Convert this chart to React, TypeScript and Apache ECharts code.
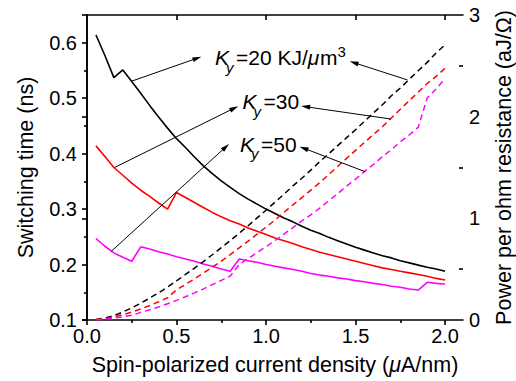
import React, { useEffect, useRef } from "react";
import * as echarts from "echarts";

const FONT = '"Liberation Sans", Arial, Helvetica, sans-serif';

// Spin-polarized current density (uA/nm)
const currentDensity = [
  0.05, 0.1, 0.15, 0.2, 0.25, 0.3, 0.35, 0.4, 0.45, 0.5,
  0.55, 0.6, 0.65, 0.7, 0.75, 0.8, 0.85, 0.9, 0.95, 1.0,
  1.05, 1.1, 1.15, 1.2, 1.25, 1.3, 1.35, 1.4, 1.45, 1.5,
  1.55, 1.6, 1.65, 1.7, 1.75, 1.8, 1.85, 1.9, 1.95, 2.0,
];

// Switching time (ns)
const timeK20 = [
  0.614, 0.577, 0.537, 0.551, 0.530, 0.509, 0.487, 0.466, 0.446, 0.427,
  0.411, 0.394, 0.378, 0.364, 0.351, 0.339, 0.328, 0.318, 0.309, 0.300,
  0.292, 0.284, 0.277, 0.269, 0.262, 0.256, 0.249, 0.243, 0.237, 0.231,
  0.226, 0.221, 0.216, 0.212, 0.207, 0.203, 0.199, 0.195, 0.192, 0.188,
];
const timeK30 = [
  0.414, 0.395, 0.375, 0.361, 0.347, 0.334, 0.323, 0.311, 0.300, 0.330,
  0.321, 0.312, 0.303, 0.294, 0.286, 0.279, 0.273, 0.266, 0.260, 0.254,
  0.248, 0.243, 0.238, 0.232, 0.227, 0.222, 0.218, 0.214, 0.210, 0.206,
  0.202, 0.198, 0.194, 0.191, 0.188, 0.185, 0.182, 0.179, 0.175, 0.172,
];
const timeK50 = [
  0.247, 0.233, 0.221, 0.213, 0.206, 0.232, 0.228, 0.223, 0.219, 0.214,
  0.210, 0.206, 0.201, 0.197, 0.192, 0.188, 0.210, 0.207, 0.204, 0.200,
  0.197, 0.194, 0.191, 0.188, 0.184, 0.181, 0.179, 0.176, 0.174, 0.171,
  0.169, 0.166, 0.164, 0.161, 0.159, 0.156, 0.154, 0.168, 0.166, 0.165,
];

// Power per ohm resistance (aJ/Ohm)
const powerK20 = [
  0.006, 0.021, 0.043, 0.079, 0.119, 0.165, 0.215, 0.268, 0.325, 0.384,
  0.448, 0.511, 0.575, 0.642, 0.711, 0.781, 0.853, 0.927, 1.004, 1.080,
  1.159, 1.237, 1.319, 1.394, 1.474, 1.558, 1.634, 1.715, 1.794, 1.871,
  1.955, 2.037, 2.117, 2.206, 2.282, 2.368, 2.452, 2.534, 2.628, 2.707,
];
const powerK30 = [
  0.004, 0.014, 0.030, 0.052, 0.078, 0.108, 0.142, 0.179, 0.219, 0.297,
  0.350, 0.404, 0.461, 0.519, 0.579, 0.643, 0.710, 0.776, 0.845, 0.914,
  0.984, 1.059, 1.133, 1.203, 1.277, 1.351, 1.430, 1.510, 1.590, 1.669,
  1.747, 1.825, 1.901, 1.987, 2.073, 2.158, 2.242, 2.326, 2.396, 2.477,
];
const powerK50 = [
  0.002, 0.008, 0.018, 0.031, 0.046, 0.075, 0.101, 0.128, 0.160, 0.193,
  0.229, 0.267, 0.306, 0.348, 0.389, 0.433, 0.546, 0.604, 0.663, 0.720,
  0.782, 0.845, 0.909, 0.975, 1.035, 1.101, 1.174, 1.242, 1.317, 1.385,
  1.462, 1.530, 1.607, 1.675, 1.753, 1.820, 1.897, 2.183, 2.272, 2.376,
];

// Axis ticks
const xTicks = [0, 0.5, 1.0, 1.5, 2.0];
const xMinorTicks = [0.25, 0.75, 1.25, 1.75];
const xTopTicks = [0.5, 1.0, 1.5, 2.0];
const leftTicks = [0.1, 0.2, 0.3, 0.4, 0.5, 0.6];
const leftMinorTicks = [0.15, 0.25, 0.35, 0.45, 0.55];
const rightTicks = [0, 1, 2, 3];
const rightMinorTicks = [0.5, 1.5, 2.5];

// Annotation arrows (data coords): [from, to]
const arrowsTime = [
  [[0.252, 0.531], [0.615, 0.572]],
  [[0.154, 0.375], [0.822, 0.482]],
  [[0.136, 0.224], [0.775, 0.412]],
];
const arrowsPower = [
  [[1.79, 2.361], [1.491, 2.531]],
  [[1.696, 1.977], [1.221, 2.098]],
  [[1.553, 1.459], [1.211, 1.689]],
];

const kValues = ["=20 KJ/", "=30", "=50"];

function pairs(xs: number[], ys: number[]) {
  return xs.map((x, i) => [x, ys[i]]);
}

function txt(x: number, baseline: number, text: string, size: number, italic = false) {
  return {
    type: "text",
    x,
    y: baseline - 0.35 * size,
    silent: true,
    style: {
      text,
      fontSize: size,
      fontFamily: FONT,
      fontStyle: italic ? "italic" : "normal",
      fill: "#000",
      align: "left",
      verticalAlign: "middle",
    },
  };
}

function kLabel(kx: number, base: number, rest: string, unit: boolean) {
  const big = 21;
  const els: any[] = [
    txt(kx, base, "K", big, true),
    txt(kx + 11, base + 7.5, "y", 15, true),
    txt(kx + 21, base, rest, big),
  ];
  if (unit) {
    const muX = kx + 21 + 3.419 * big;
    els.push(txt(muX, base, "\u03bc", big, true));
    const mX = muX + 0.576 * big;
    els.push(txt(mX, base, "m", big));
    els.push(txt(mX + 0.833 * big, base - 8.3, "3", 15));
  }
  return els;
}

const axisLineStyle = { color: "#000", width: 1.6 };

function arrowLines(list: number[][][]) {
  return {
    silent: true,
    symbol: ["none", "triangle"],
    symbolSize: [5, 9],
    label: { show: false },
    emphasis: { disabled: true },
    lineStyle: { color: "#000", width: 1, type: "solid" },
    data: list.map(([a, b]) => [{ coord: a }, { coord: b }]),
  };
}

export default function App() {
  const ref = useRef<HTMLDivElement>(null);
  useEffect(() => {
    document.body.style.margin = "0";
    const chart = echarts.init(ref.current!, null, { renderer: "svg" });
    const xBase = { type: "value", min: 0, max: 2.1, splitLine: { show: false } };
    const yLeft = { type: "value", min: 0.1, max: 0.65, splitLine: { show: false } };
    const yRight = { type: "value", min: 0, max: 3, splitLine: { show: false } };
    const option: any = {
      animation: false,
      backgroundColor: "#fff",
      grid: { left: 87, right: 53, top: 15, bottom: 61, outerBoundsMode: "none", containLabel: false },
      xAxis: [
        {
          ...xBase,
          position: "bottom",
          name: "Spin-polarized current density ({i|\u03bc}A/nm)",
          nameLocation: "middle",
          nameGap: 34,
          nameTextStyle: {
            fontSize: 21.5,
            fontFamily: FONT,
            color: "#000",
            rich: { i: { fontSize: 21.5, fontFamily: FONT, fontStyle: "italic", color: "#000" } },
          },
          axisLine: { show: true, lineStyle: axisLineStyle },
          axisTick: { show: true, inside: false, length: 5, customValues: xTicks, lineStyle: axisLineStyle },
          axisLabel: {
            show: true,
            customValues: xTicks,
            margin: 6,
            fontSize: 20,
            fontFamily: FONT,
            color: "#000",
            formatter: (v: number) => v.toFixed(1),
          },
        },
        {
          ...xBase,
          position: "bottom",
          axisLine: { show: false },
          axisTick: { show: true, inside: false, length: 3, customValues: xMinorTicks, lineStyle: axisLineStyle },
          axisLabel: { show: false },
        },
        {
          ...xBase,
          position: "top",
          axisLine: { show: true, lineStyle: axisLineStyle },
          axisTick: { show: true, inside: true, length: 5, customValues: xTopTicks, lineStyle: axisLineStyle },
          axisLabel: { show: false },
        },
      ],
      yAxis: [
        {
          ...yLeft,
          position: "left",
          name: "Switching time (ns)",
          nameLocation: "middle",
          nameRotate: 90,
          nameGap: 50,
          nameTextStyle: { fontSize: 21.5, fontFamily: FONT, color: "#000" },
          axisLine: { show: true, lineStyle: axisLineStyle },
          axisTick: { show: true, inside: false, length: 5, customValues: leftTicks, lineStyle: axisLineStyle },
          axisLabel: {
            show: true,
            customValues: leftTicks,
            margin: 10,
            fontSize: 20,
            fontFamily: FONT,
            color: "#000",
            formatter: (v: number) => v.toFixed(1),
          },
        },
        {
          ...yLeft,
          position: "left",
          axisLine: { show: false },
          axisTick: { show: true, inside: false, length: 3, customValues: leftMinorTicks, lineStyle: axisLineStyle },
          axisLabel: { show: false },
        },
        {
          ...yRight,
          position: "right",
          name: "Power per ohm resistance (aJ/\u03a9)",
          nameLocation: "middle",
          nameRotate: 90,
          nameGap: 30,
          nameTextStyle: { fontSize: 21.5, fontFamily: FONT, color: "#000" },
          axisLine: { show: true, lineStyle: axisLineStyle },
          axisTick: { show: true, inside: true, length: 5, customValues: rightTicks, lineStyle: axisLineStyle },
          axisLabel: {
            show: true,
            customValues: rightTicks,
            margin: 6,
            fontSize: 20,
            fontFamily: FONT,
            color: "#000",
            formatter: (v: number) => String(v),
          },
        },
        {
          ...yRight,
          position: "right",
          axisLine: { show: false },
          axisTick: { show: true, inside: true, length: 4, customValues: rightMinorTicks, lineStyle: axisLineStyle },
          axisLabel: { show: false },
        },
      ],
      series: [
        {
          type: "line", xAxisIndex: 0, yAxisIndex: 0, data: pairs(currentDensity, timeK20),
          showSymbol: false, symbol: "none", lineStyle: { color: "#000", width: 1.6 },
          markLine: arrowLines(arrowsTime),
        },
        {
          type: "line", xAxisIndex: 0, yAxisIndex: 0, data: pairs(currentDensity, timeK30),
          showSymbol: false, symbol: "none", lineStyle: { color: "#ff0000", width: 1.6 },
        },
        {
          type: "line", xAxisIndex: 0, yAxisIndex: 0, data: pairs(currentDensity, timeK50),
          showSymbol: false, symbol: "none", lineStyle: { color: "#ff00ff", width: 1.6 },
        },
        {
          type: "line", xAxisIndex: 0, yAxisIndex: 2, data: pairs(currentDensity, powerK20),
          showSymbol: false, symbol: "none", lineStyle: { color: "#000", width: 1.5, type: [6, 4] },
          markLine: arrowLines(arrowsPower),
        },
        {
          type: "line", xAxisIndex: 0, yAxisIndex: 2, data: pairs(currentDensity, powerK30),
          showSymbol: false, symbol: "none", lineStyle: { color: "#ff0000", width: 1.5, type: [6, 4] },
        },
        {
          type: "line", xAxisIndex: 0, yAxisIndex: 2, data: pairs(currentDensity, powerK50),
          showSymbol: false, symbol: "none", lineStyle: { color: "#ff00ff", width: 1.5, type: [6, 4] },
        },
      ],
      graphic: [
        ...kLabel(215, 65, kValues[0], true),
        ...kLabel(242.5, 109, kValues[1], false),
        ...kLabel(240, 151.5, kValues[2], false),
      ],
    };
    chart.setOption(option);
    return () => chart.dispose();
  }, []);
  return (
    <div
      ref={ref}
      style={{ position: "absolute", left: 0, top: 0, width: 516, height: 381, background: "#fff" }}
    />
  );
}
